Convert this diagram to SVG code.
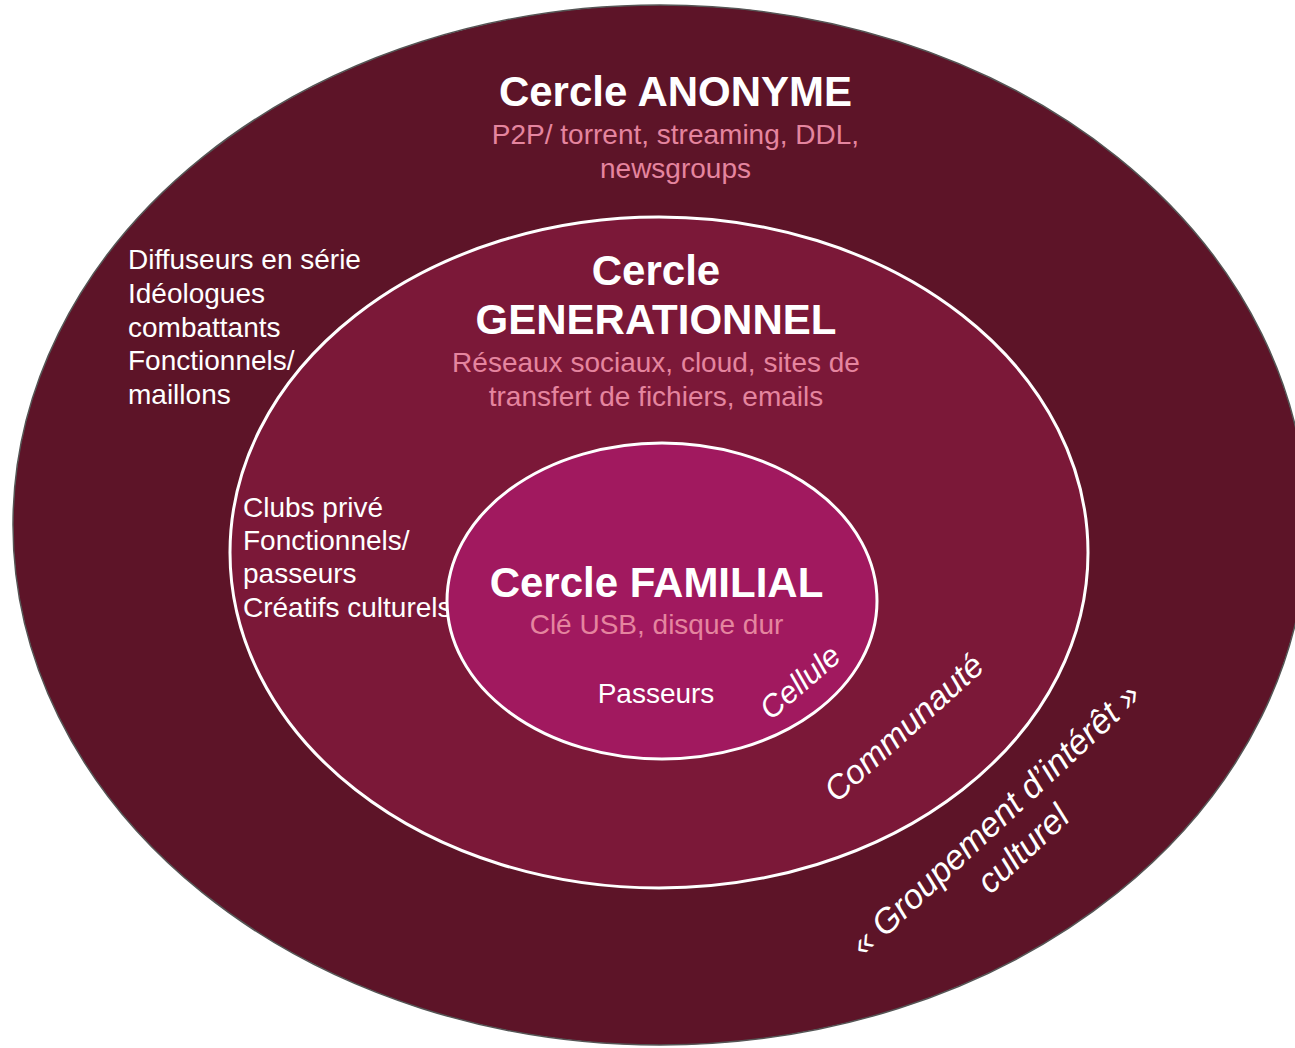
<svg xmlns="http://www.w3.org/2000/svg" width="1295" height="1048" viewBox="0 0 1295 1048">
<style>
text{font-family:"Liberation Sans",Arial,sans-serif;fill:#ffffff}
.t{font-size:42px;font-weight:bold;text-anchor:middle}
.s{font-size:28px;fill:#e5859f;text-anchor:middle}
.b{font-size:28px}
.i{font-style:italic;text-anchor:middle}
</style>
<rect width="1295" height="1048" fill="#ffffff"/>
<g id="anonyme">
<ellipse cx="660" cy="525" rx="647" ry="520" fill="#5d1428" stroke="#555555" stroke-width="1.5"/>
<text class="t" x="675.5" y="106">Cercle ANONYME</text>
<text class="s" x="675.5" y="144">P2P/ torrent, streaming, DDL,</text>
<text class="s" x="675.5" y="178">newsgroups</text>
<text class="b" x="128" y="269">Diffuseurs en série</text>
<text class="b" x="128" y="303">Idéologues</text>
<text class="b" x="128" y="337">combattants</text>
<text class="b" x="128" y="370">Fonctionnels/</text>
<text class="b" x="128" y="404">maillons</text>
<g transform="translate(1009 834) rotate(-43)">
<text class="i" font-size="34.5" x="0" y="-8.5">« Groupement d’intérêt »</text>
<text class="i" font-size="34.5" x="0" y="32">culturel</text>
</g>
</g>
<g id="generationnel">
<ellipse cx="659" cy="552.5" rx="429" ry="335.5" fill="#7b1838" stroke="#ffffff" stroke-width="3"/>
<text class="t" x="656" y="285">Cercle</text>
<text class="t" x="656" y="334">GENERATIONNEL</text>
<text class="s" x="656" y="372">Réseaux sociaux, cloud, sites de</text>
<text class="s" x="656" y="406">transfert de fichiers, emails</text>
<text class="b" x="243" y="517">Clubs privé</text>
<text class="b" x="243" y="550">Fonctionnels/</text>
<text class="b" x="243" y="583">passeurs</text>
<text class="b" x="243" y="617">Créatifs culturels</text>
<g transform="translate(904 728) rotate(-42)">
<text class="i" font-size="33.5" x="0" y="11">Communauté</text>
</g>
</g>
<g id="familial">
<ellipse cx="662" cy="601" rx="215" ry="158" fill="#a1195f" stroke="#ffffff" stroke-width="3"/>
<text class="t" x="656.5" y="597">Cercle FAMILIAL</text>
<text class="s" x="656.5" y="634">Clé USB, disque dur</text>
<text class="b" x="656" y="703" text-anchor="middle">Passeurs</text>
<g transform="translate(800 682) rotate(-41)">
<text class="i" font-size="31" x="0" y="10.5">Cellule</text>
</g>
</g>
</svg>
